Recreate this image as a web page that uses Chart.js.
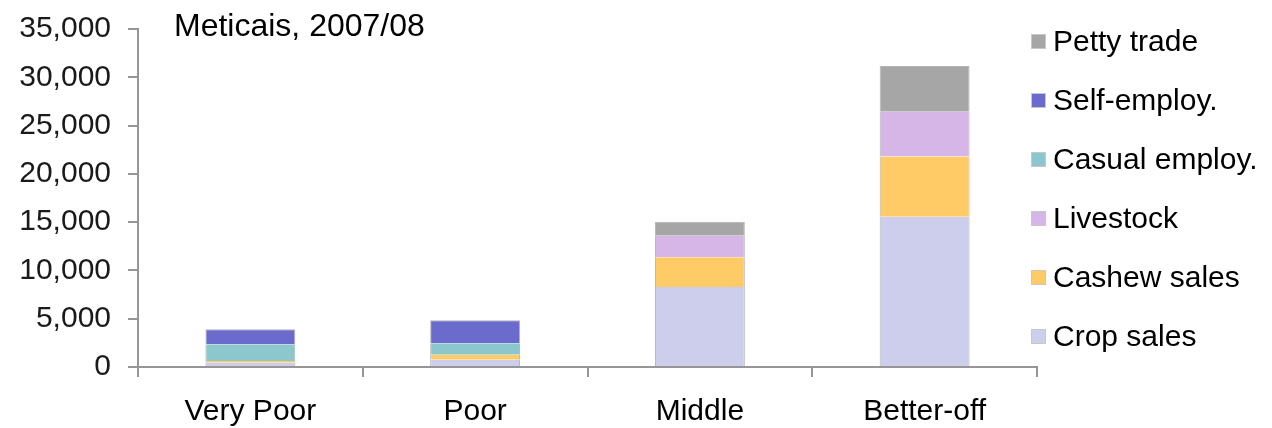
<!DOCTYPE html>
<html>
<head>
<meta charset="utf-8">
<script src="https://cdn.jsdelivr.net/npm/chart.js@4/dist/chart.umd.min.js"></script>
<style>
  html, body { margin: 0; padding: 0; background: #ffffff; }
  #wrap { width: 1272px; height: 428px; position: relative; }
</style>
</head>
<body>
<div id="wrap"><canvas id="c" width="1272" height="428"></canvas></div>
<script>
// Household income by wealth group, by source (Meticais, 2007/08)
const groups = ['Very Poor', 'Poor', 'Middle', 'Better-off'];
const cropSales   = [450, 750, 8280, 15570];
const cashewSales = [170, 520, 3080, 6240];
const livestock   = [0, 0, 2240, 4620];
const casualEmploy = [1730, 1180, 0, 0];
const selfEmploy  = [1550, 2380, 0, 0];
const pettyTrade  = [0, 0, 1450, 4730];
const yTicks = [0, 5000, 10000, 15000, 20000, 25000, 30000, 35000];
const chartTitle = 'Meticais, 2007/08';

const FONT = '"Liberation Sans", Arial, sans-serif';
const AXIS = '#969696';
const EDGE = '#b4b4b4';

const series = [
  { label: 'Crop sales',     data: cropSales,    color: '#ccceec' },
  { label: 'Cashew sales',   data: cashewSales,  color: '#ffcb66' },
  { label: 'Livestock',      data: livestock,    color: '#d6b6e6' },
  { label: 'Casual employ.', data: casualEmploy, color: '#8bc7cc' },
  { label: 'Self-employ.',   data: selfEmploy,   color: '#6b6bcd' },
  { label: 'Petty trade',    data: pettyTrade,   color: '#a6a6a6' }
];

// top edge only on the highest non-empty segment of each stack
function isTopSegment(ctx) {
  const ds = ctx.chart.data.datasets;
  const i = ctx.dataIndex;
  for (let k = ds.length - 1; k >= 0; k--) {
    if (ds[k].data[i] > 0) return k === ctx.datasetIndex;
  }
  return false;
}

const titleAndLegend = {
  id: 'titleAndLegend',
  afterDraw(chart) {
    const ctx = chart.ctx;
    ctx.save();
    ctx.fillStyle = '#000000';
    ctx.font = '32px ' + FONT;
    ctx.textAlign = 'left';
    ctx.textBaseline = 'alphabetic';
    ctx.fillText(chartTitle, 174, 36);

    const ds = chart.data.datasets;
    const x0 = 1031, y0 = 41.5, step = 59, box = 15;
    ctx.font = '30px ' + FONT;
    ctx.textBaseline = 'middle';
    for (let n = 0; n < ds.length; n++) {
      const d = ds[ds.length - 1 - n];
      const cy = y0 + n * step;
      ctx.fillStyle = d.backgroundColor;
      ctx.fillRect(x0, cy - box / 2, box, box);
      ctx.strokeStyle = '#c8c8c8';
      ctx.lineWidth = 1;
      ctx.strokeRect(x0 + 0.5, cy - box / 2 + 0.5, box - 1, box - 1);
      ctx.fillStyle = '#000000';
      ctx.fillText(d.label, 1053, cy + 1);
    }
    ctx.restore();
  }
};

new Chart(document.getElementById('c'), {
  type: 'bar',
  data: {
    labels: groups,
    datasets: series.map(s => ({
      label: s.label,
      data: s.data,
      backgroundColor: s.color,
      borderColor: EDGE,
      borderWidth: ctx => ({ left: 1, right: 1, bottom: 0, top: isTopSegment(ctx) ? 1 : 0 }),
      borderSkipped: 'start',
      barPercentage: 0.4,
      categoryPercentage: 1.0
    }))
  },
  options: {
    responsive: false,
    animation: false,
    devicePixelRatio: 1,
    layout: { padding: { top: 29, right: 235, bottom: 0, left: 0 } },
    plugins: {
      legend: { display: false },
      title: { display: false },
      tooltip: { enabled: false }
    },
    scales: {
      x: {
        stacked: true,
        offset: true,
        afterFit(scale) { scale.height = 61; },
        border: { display: true, color: AXIS, width: 2 },
        grid: {
          offset: true,
          drawOnChartArea: false,
          drawTicks: true,
          tickLength: 10,
          color: AXIS,
          lineWidth: 2
        },
        ticks: {
          padding: 17,
          color: '#000000',
          font: { family: FONT, size: 30 },
          maxRotation: 0
        }
      },
      y: {
        stacked: true,
        min: 0,
        max: 35000,
        afterFit(scale) {
          scale.width = 138;
          scale.paddingTop = 0;
          scale.paddingBottom = 0;
        },
        afterBuildTicks(scale) { scale.ticks = yTicks.map(v => ({ value: v })); },
        border: { display: true, color: AXIS, width: 2 },
        grid: {
          drawOnChartArea: false,
          drawTicks: true,
          tickLength: 10,
          color: AXIS,
          lineWidth: 2
        },
        ticks: {
          padding: 17,
          color: '#1a1a1a',
          font: { family: FONT, size: 30 },
          callback: v => v.toLocaleString('en-US')
        }
      }
    }
  },
  plugins: [titleAndLegend]
});
</script>
</body>
</html>
